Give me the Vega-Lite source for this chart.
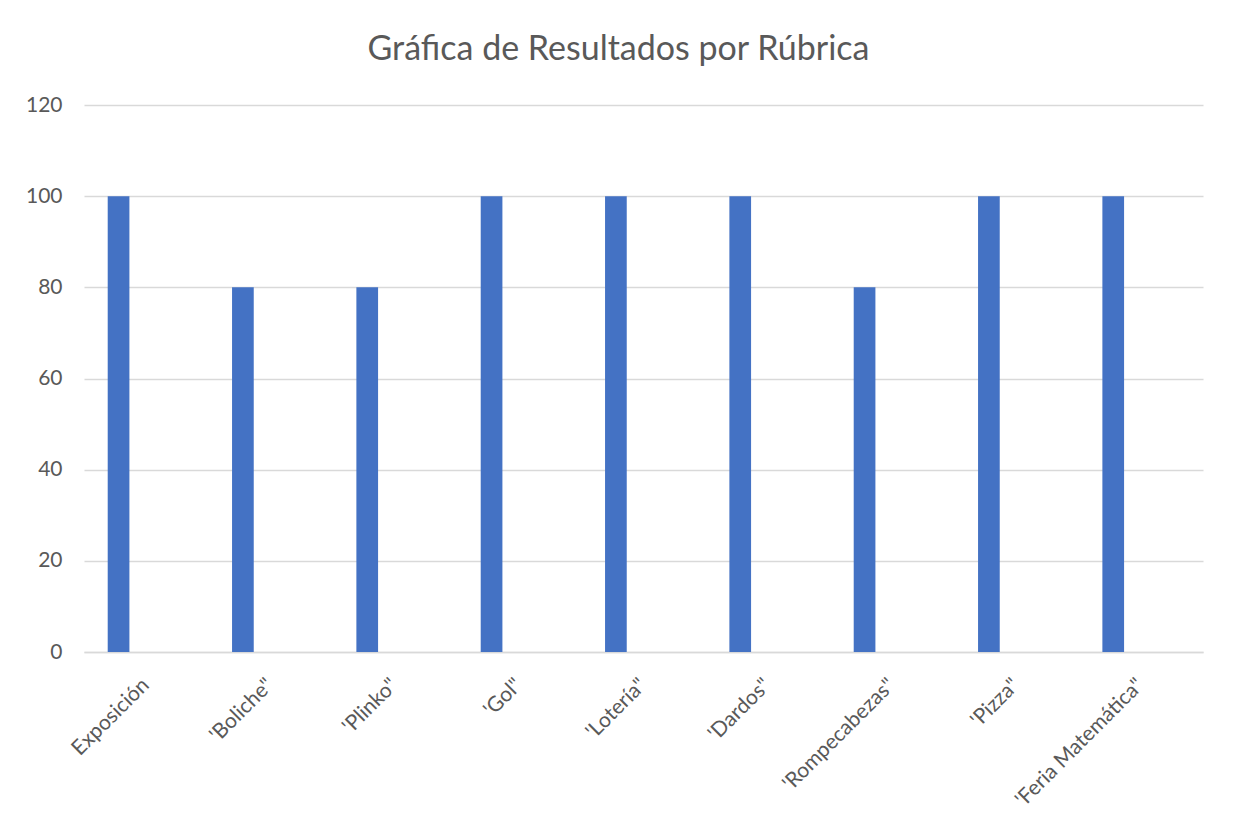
{
  "$schema": "https://vega.github.io/schema/vega-lite/v6.json",
  "autosize": {"type": "none"},
  "width": 1119,
  "height": 547,
  "padding": {"left": 84, "top": 105, "right": 30, "bottom": 183},
  "background": "white",
  "title": {
    "text": "Gráfica de Resultados por Rúbrica",
    "font": "Lato",
    "fontSize": 34,
    "fontWeight": "normal",
    "color": "#595959",
    "anchor": "middle",
    "dx": -25,
    "offset": 27
  },
  "data": {
    "values": [
      {"rubrica": "Exposición", "serie": "A", "puntaje": 100},
      {"rubrica": "'Boliche\"", "serie": "A", "puntaje": 80},
      {"rubrica": "'Plinko\"", "serie": "A", "puntaje": 80},
      {"rubrica": "'Gol\"", "serie": "A", "puntaje": 100},
      {"rubrica": "'Lotería\"", "serie": "A", "puntaje": 100},
      {"rubrica": "'Dardos\"", "serie": "A", "puntaje": 100},
      {"rubrica": "'Rompecabezas\"", "serie": "A", "puntaje": 80},
      {"rubrica": "'Pizza\"", "serie": "A", "puntaje": 100},
      {"rubrica": "'Feria Matemática\"", "serie": "A", "puntaje": 100}
    ]
  },
  "mark": {"type": "bar", "color": "#4472C4"},
  "encoding": {
    "x": {
      "field": "rubrica",
      "type": "nominal",
      "sort": null,
      "scale": {"paddingInner": 0, "paddingOuter": 0},
      "axis": {
        "title": null,
        "labelAngle": -45,
        "labelFont": "Lato",
        "labelFontSize": 21,
        "labelColor": "#595959",
        "labelPadding": 22,
        "labelOffset": -8,
        "ticks": false,
        "domainColor": "#d9d9d9",
        "domainWidth": 1.5,
        "grid": false
      }
    },
    "xOffset": {
      "field": "serie",
      "type": "nominal",
      "scale": {"domain": ["A", "B", "C"], "paddingInner": 0.214, "paddingOuter": 0.859}
    },
    "y": {
      "field": "puntaje",
      "type": "quantitative",
      "scale": {"domain": [0, 120]},
      "axis": {
        "title": null,
        "values": [0, 20, 40, 60, 80, 100, 120],
        "labelFont": "Lato",
        "labelFontSize": 21,
        "labelColor": "#595959",
        "labelPadding": 22,
        "ticks": false,
        "domain": false,
        "gridColor": "#d9d9d9",
        "gridWidth": 1.5
      }
    }
  },
  "config": {"view": {"stroke": null}}
}
